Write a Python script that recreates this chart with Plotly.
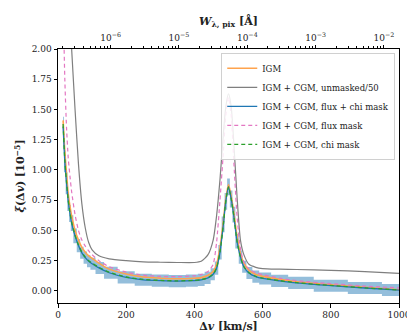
import plotly.graph_objects as go

# velocity lag grid (km/s)
dv = [15, 20, 25, 30, 35, 40, 50, 60, 70, 80, 90, 100, 120, 150, 200, 250, 300, 350, 400,
      420, 440, 455, 465, 475, 485, 492, 500, 508, 515, 525, 535, 545, 560, 580, 600,
      650, 700, 800, 900, 1000]

igm = [1.41, 1.15, 0.97, 0.80, 0.70, 0.62, 0.50, 0.42, 0.36, 0.32, 0.29, 0.27, 0.23, 0.18, 0.14,
       0.115, 0.105, 0.10, 0.105, 0.11, 0.13, 0.16, 0.22, 0.36, 0.58, 0.76, 0.88, 0.78, 0.66,
       0.45, 0.31, 0.23, 0.17, 0.135, 0.12, 0.095, 0.075, 0.05, 0.03, 0.01]

unmasked50 = [3.4, 3.1, 2.8, 2.5, 2.25, 2.0, 1.50, 1.05, 0.72, 0.52, 0.40, 0.34, 0.29, 0.265,
              0.25, 0.24, 0.237, 0.235, 0.235, 0.245, 0.30, 0.42, 0.62, 0.92, 1.30, 1.52, 1.63,
              1.52, 1.25, 0.78, 0.42, 0.30, 0.22, 0.195, 0.185, 0.18, 0.177, 0.17, 0.16, 0.145]

flux_chi = [1.36, 1.07, 0.89, 0.74, 0.64, 0.56, 0.455, 0.375, 0.315, 0.275, 0.245, 0.225, 0.19,
            0.15, 0.112, 0.092, 0.085, 0.081, 0.085, 0.091, 0.108, 0.138, 0.188, 0.32, 0.55, 0.74,
            0.86, 0.76, 0.63, 0.41, 0.28, 0.20, 0.148, 0.118, 0.103, 0.083, 0.066, 0.043, 0.024, 0.007]

flux_err = [0.08, 0.09, 0.09, 0.08, 0.07, 0.065, 0.06, 0.055, 0.05, 0.05, 0.05, 0.05, 0.05, 0.05,
            0.05, 0.05, 0.05, 0.05, 0.05, 0.05, 0.05, 0.05, 0.055, 0.06, 0.065, 0.07, 0.07, 0.07,
            0.065, 0.06, 0.055, 0.05, 0.05, 0.05, 0.05, 0.05, 0.05, 0.05, 0.05, 0.05]

flux_mask = [2.4, 1.75, 1.35, 1.10, 0.95, 0.82, 0.63, 0.50, 0.42, 0.37, 0.33, 0.30, 0.25, 0.20,
             0.155, 0.13, 0.12, 0.118, 0.125, 0.135, 0.16, 0.22, 0.40, 0.75, 1.15, 1.45, 1.60,
             1.45, 1.10, 0.62, 0.35, 0.24, 0.18, 0.15, 0.135, 0.105, 0.085, 0.06, 0.04, 0.025]

chi_mask = [1.38, 1.08, 0.90, 0.75, 0.65, 0.57, 0.46, 0.38, 0.32, 0.28, 0.25, 0.23, 0.195, 0.155,
            0.115, 0.095, 0.087, 0.083, 0.087, 0.093, 0.11, 0.14, 0.19, 0.32, 0.55, 0.74, 0.86,
            0.76, 0.63, 0.41, 0.28, 0.20, 0.15, 0.12, 0.105, 0.085, 0.068, 0.045, 0.025, 0.008]

top_ticks = [1e-6, 1e-5, 1e-4, 1e-3, 1e-2]
top_labels = ["10<sup>−6</sup>", "10<sup>−5</sup>", "10<sup>−4</sup>", "10<sup>−3</sup>", "10<sup>−2</sup>"]
x_ticks = [0, 200, 400, 600, 800, 1000]
y_ticks = [0.0, 0.25, 0.5, 0.75, 1.0, 1.25, 1.5, 1.75, 2.0]

FONT = "DejaVu Serif"
C_ORANGE = "#ffa34d"
C_GRAY = "#7f7f7f"
C_BLUE = "#1f77b4"
C_PINK = "#e377c2"
C_GREEN = "#2ca02c"
C_BAND = "rgba(31,119,180,0.48)"

lo = [m - e for m, e in zip(flux_chi, flux_err)]
hi = [m + e for m, e in zip(flux_chi, flux_err)]

fig = go.Figure()
fig.add_trace(go.Scatter(x=dv, y=lo, mode="lines", line=dict(width=0, shape="hvh"),
                         showlegend=False, hoverinfo="skip"))
fig.add_trace(go.Scatter(x=dv, y=hi, mode="lines", line=dict(width=0, shape="hvh"),
                         fill="tonexty", fillcolor=C_BAND, showlegend=False, hoverinfo="skip"))
fig.add_trace(go.Scatter(x=dv, y=igm, mode="lines", name="IGM",
                         line=dict(color=C_ORANGE, width=1.6, shape="spline", smoothing=0.6)))
fig.add_trace(go.Scatter(x=dv, y=unmasked50, mode="lines", name="IGM + CGM, unmasked/50",
                         line=dict(color=C_GRAY, width=1.2, shape="spline", smoothing=0.6)))
fig.add_trace(go.Scatter(x=dv, y=flux_chi, mode="lines", name="IGM + CGM, flux + chi mask",
                         line=dict(color=C_BLUE, width=1.3, shape="spline", smoothing=0.6)))
fig.add_trace(go.Scatter(x=dv, y=flux_mask, mode="lines", name="IGM + CGM, flux mask",
                         line=dict(color=C_PINK, width=1.2, dash="4px,3px", shape="spline", smoothing=0.6)))
fig.add_trace(go.Scatter(x=dv, y=chi_mask, mode="lines", name="IGM + CGM, chi mask",
                         line=dict(color=C_GREEN, width=1.3, dash="4px,3px", shape="spline", smoothing=0.6)))
# carrier for the top axis
fig.add_trace(go.Scatter(x=[1e-4], y=[None], xaxis="x2", mode="lines", showlegend=False,
                         hoverinfo="skip"))

axis_common = dict(showline=True, linecolor="black", linewidth=1, ticks="outside",
                   ticklen=3.5, tickwidth=1, tickcolor="black", showgrid=False, zeroline=False,
                   tickfont=dict(family=FONT, size=9, color="#222"))

fig.update_layout(
    width=415, height=332,
    margin=dict(l=41, r=17, t=36, b=34),
    paper_bgcolor="white", plot_bgcolor="white",
    font=dict(family=FONT, size=9, color="#222"),
    xaxis=dict(range=[0, 1000], tickvals=x_ticks, ticktext=[str(v) for v in x_ticks],
               title=dict(text="<b>Δ<i>v</i> [km/s]</b>", font=dict(family=FONT, size=11), standoff=0),
               mirror=False, **axis_common),
    yaxis=dict(range=[-0.1, 2.0], tickvals=y_ticks, ticktext=[f"{v:.2f}" for v in y_ticks],
               title=dict(text="<b><i>ξ</i>(Δ<i>v</i>) [10<sup>−5</sup>]</b>",
                          font=dict(family=FONT, size=11), standoff=4),
               mirror=True, **axis_common),
    xaxis2=dict(type="log", overlaying="x", side="top", range=[-6.77, -1.78], anchor="y",
                tickvals=top_ticks, ticktext=top_labels,
                minor=dict(ticks="outside", ticklen=2, tickcolor="black", dtick="D1"),
                title=dict(text="<b><i>W</i><sub>λ, pix</sub> [Å]</b>", font=dict(family=FONT, size=11),
                           standoff=3),
                **axis_common),
    legend=dict(x=0.989, y=0.985, xanchor="right", yanchor="top", bgcolor="rgba(255,255,255,0.85)",
                bordercolor="#d0d0d0", borderwidth=1, font=dict(family=FONT, size=8.5),
                traceorder="normal", tracegroupgap=0, itemwidth=30),
)

fig.write_html("out.html")
